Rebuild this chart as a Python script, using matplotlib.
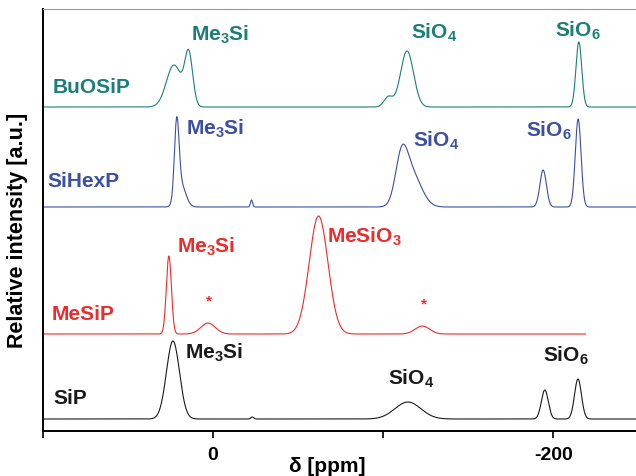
import numpy as np
import matplotlib
matplotlib.use("Agg")
import matplotlib.pyplot as plt

plt.rcParams["font.family"] = "Liberation Sans"
plt.rcParams["font.weight"] = "bold"
plt.rcParams["mathtext.default"] = "regular"

# peak lists: position (ppm), height (a.u.), width (ppm)
sip_pos = [23.6, -23, -114.5, -195, -214.5]
sip_h = [78, 2, 17, 29, 40]
sip_w = [9, 2, 18, 4.8, 4.8]

mesip_pos = [26, 3, -62, -123]
mesip_h = [78, 11, 118, 8]
mesip_w = [3.5, 10, 13, 10]

hex_pos = [21.4, 18.8, -22.6, -110.8, -117, -194, -214.6]
hex_h = [76, 22, 7, 44, 32, 37, 88]
hex_w = [3.2, 6.5, 1.5, 8.5, 13, 4.5, 4]

buo_pos = [23, 14.3, -103, -114, -215]
buo_h = [42, 51, 10, 56, 65]
buo_w = [10.5, 5.5, 6, 9, 4]

offsets = {"SiP": 12, "MeSiP": 97, "SiHexP": 224, "BuOSiP": 324}
colors = {"SiP": "#1a1a1a", "MeSiP": "#ee2b2b", "SiHexP": "#3b4fa5", "BuOSiP": "#1b7f78"}


def spectrum(ppm, pos, h, w):
    y = np.zeros_like(ppm)
    for p, a, fw in zip(pos, h, w):
        s = fw / 2.355
        y += a * np.exp(-0.5 * ((ppm - p) / s) ** 2)
    return y


ppm = np.linspace(100, -250, 3000)
ppm_red = np.linspace(100, -219, 2700)

fig = plt.figure(figsize=(6.36, 4.77), dpi=100)
ax = fig.add_axes([43 / 636, 1 - 432 / 477, 1 - 43 / 636, 422 / 477])

ax.plot(ppm, offsets["SiP"] + spectrum(ppm, sip_pos, sip_h, sip_w), color=colors["SiP"], lw=0.8)
ax.plot(ppm_red, offsets["MeSiP"] + spectrum(ppm_red, mesip_pos, mesip_h, mesip_w), color=colors["MeSiP"], lw=0.8)
ax.plot(ppm, offsets["SiHexP"] + spectrum(ppm, hex_pos, hex_h, hex_w), color=colors["SiHexP"], lw=0.8)
ax.plot(ppm, offsets["BuOSiP"] + spectrum(ppm, buo_pos, buo_h, buo_w), color=colors["BuOSiP"], lw=0.8)

ax.set_xlim(100, -248.6)
ax.set_ylim(0, 422)
ax.set_xticks([100, 0, -100, -200])
ax.set_xticklabels(["", "0", "", "-200"], fontsize=14, fontweight="bold")
ax.set_yticks([])
ax.tick_params(axis="x", direction="out", length=5, width=1.2, pad=6)
ax.spines["left"].set_linewidth(1.4)
ax.spines["bottom"].set_linewidth(1.4)
ax.spines["top"].set_color("#999999")
ax.spines["top"].set_linewidth(0.8)
ax.spines["right"].set_visible(False)

# axis titles
fig.text(327 / 636, 1 - 467 / 477, "δ [ppm]", fontsize=15, fontweight="bold",
         ha="center", va="center")
fig.text(18 / 636, 1 - 230 / 477, "Relative intensity [a.u.]", fontsize=15.5,
         fontweight="bold", rotation=90, ha="center", va="center")

fs = 15
# sample names
ax.text(94.3, 339, "BuOSiP", color=colors["BuOSiP"], fontsize=fs, va="baseline")
ax.text(97.2, 245, "SiHexP", color=colors["SiHexP"], fontsize=fs, va="baseline")
ax.text(94.9, 112, "MeSiP", color=colors["MeSiP"], fontsize=fs, va="baseline")
ax.text(93.7, 28, "SiP", color=colors["SiP"], fontsize=fs, va="baseline")

# peak labels
c = colors["BuOSiP"]
ax.text(13.1, 391, "Me$_3$Si", color=c, fontsize=fs, va="baseline")
ax.text(-116.3, 393, "SiO$_4$", color=c, fontsize=fs, va="baseline")
ax.text(-201, 395, "SiO$_6$", color=c, fontsize=fs, va="baseline")
c = colors["SiHexP"]
ax.text(16.1, 297, "Me$_3$Si", color=c, fontsize=fs, va="baseline")
ax.text(-117.5, 285, "SiO$_4$", color=c, fontsize=fs, va="baseline")
ax.text(-184, 295, "SiO$_6$", color=c, fontsize=fs, va="baseline")
c = colors["MeSiP"]
ax.text(21.4, 179, "Me$_3$Si", color=c, fontsize=fs, va="baseline")
ax.text(-66.9, 189, "MeSiO$_3$", color=c, fontsize=fs, va="baseline")
ax.text(2.5, 131, "*", color=c, fontsize=11, ha="center", va="center")
ax.text(-124, 128, "*", color=c, fontsize=11, ha="center", va="center")
c = colors["SiP"]
ax.text(16.6, 73, "Me$_3$Si", color=c, fontsize=fs, va="baseline")
ax.text(-102.8, 47, "SiO$_4$", color=c, fontsize=fs, va="baseline")
ax.text(-193.9, 70, "SiO$_6$", color=c, fontsize=fs, va="baseline")

fig.savefig("out.png", dpi=100)
